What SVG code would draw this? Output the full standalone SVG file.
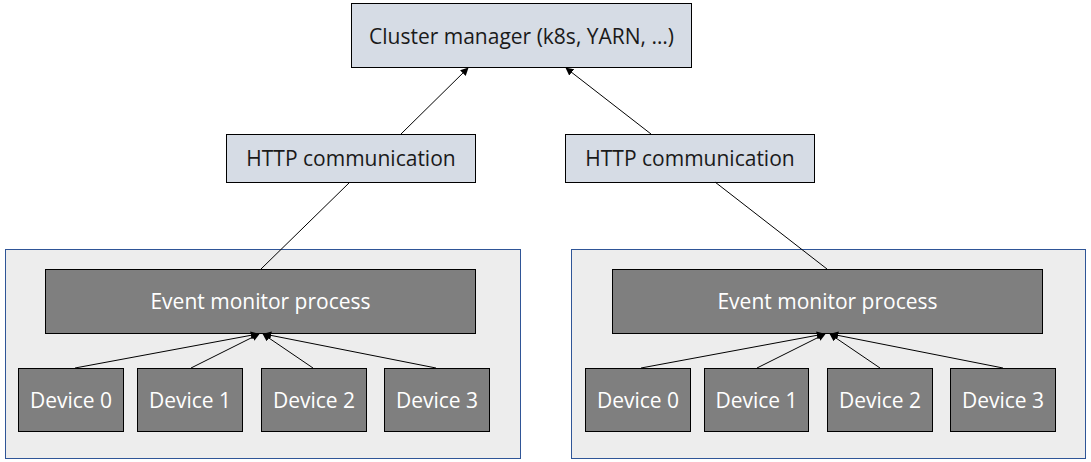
<svg xmlns="http://www.w3.org/2000/svg" width="1091" height="462" viewBox="0 0 1091 462">
<style>
.light{fill:#D6DCE5;stroke:#000;stroke-width:1}
.cont{fill:#EDEDED;stroke:#2F5597;stroke-width:1}
.dark{fill:#7F7F7F;stroke:#000;stroke-width:1}
text{font-family:"Open Sans","Noto Sans",sans-serif;font-size:21px;text-anchor:middle;dominant-baseline:central}
.lt{fill:#1a1a1a}
.wt{fill:#fff}
.conn line{stroke:#000;stroke-width:1}
</style>
<defs>
<marker id="arr" viewBox="0 0 10 10" refX="9" refY="5" markerWidth="8" markerHeight="8" markerUnits="userSpaceOnUse" orient="auto">
<path d="M0,0 L10,5 L0,10 z" fill="#000"/>
</marker>
</defs>
<rect fill="#fff" width="1091" height="462"/>
<g id="container-left"><rect class="cont" x="5.5" y="249.5" width="515" height="209"/></g>
<g id="container-right"><rect class="cont" x="571.5" y="249.5" width="514" height="209"/></g>
<g id="cluster-manager"><rect class="light" x="351.5" y="3.5" width="340" height="64"/><text class="lt" x="521.5" y="36">Cluster manager (k8s, YARN, …)</text></g>
<g id="http-left"><rect class="light" x="226.5" y="134.5" width="249" height="48"/><text class="lt" x="351" y="158">HTTP communication</text></g>
<g id="http-right"><rect class="light" x="565.5" y="134.5" width="249" height="48"/><text class="lt" x="690" y="158">HTTP communication</text></g>
<g id="event-left"><rect class="dark" x="45.5" y="269.5" width="430" height="64"/><text class="wt" x="260.5" y="301">Event monitor process</text></g>
<g id="event-right"><rect class="dark" x="612.5" y="269.5" width="430" height="64"/><text class="wt" x="827.5" y="301">Event monitor process</text></g>
<g id="dev-l0"><rect class="dark" x="18.5" y="368.5" width="105" height="63"/><text class="wt" x="71" y="400">Device 0</text></g>
<g id="dev-l1"><rect class="dark" x="137.5" y="368.5" width="105" height="63"/><text class="wt" x="190" y="400">Device 1</text></g>
<g id="dev-l2"><rect class="dark" x="261.5" y="368.5" width="105" height="63"/><text class="wt" x="314" y="400">Device 2</text></g>
<g id="dev-l3"><rect class="dark" x="384.5" y="368.5" width="105" height="63"/><text class="wt" x="437" y="400">Device 3</text></g>
<g id="dev-r0"><rect class="dark" x="585.5" y="368.5" width="105" height="63"/><text class="wt" x="638" y="400">Device 0</text></g>
<g id="dev-r1"><rect class="dark" x="704.5" y="368.5" width="104" height="63"/><text class="wt" x="756.5" y="400">Device 1</text></g>
<g id="dev-r2"><rect class="dark" x="827.5" y="368.5" width="105" height="63"/><text class="wt" x="880" y="400">Device 2</text></g>
<g id="dev-r3"><rect class="dark" x="950.5" y="368.5" width="105" height="63"/><text class="wt" x="1003" y="400">Device 3</text></g>
<g id="connectors" class="conn">
<line x1="401" y1="134" x2="468" y2="68" marker-end="url(#arr)"/>
<line x1="651" y1="134" x2="566" y2="68" marker-end="url(#arr)"/>
<line x1="261" y1="269" x2="350" y2="182"/>
<line x1="827" y1="269" x2="715" y2="182"/>
<line x1="75" y1="368" x2="258" y2="334" marker-end="url(#arr)"/>
<line x1="191" y1="368" x2="259" y2="334" marker-end="url(#arr)"/>
<line x1="313" y1="368" x2="263" y2="334" marker-end="url(#arr)"/>
<line x1="436" y1="368" x2="264" y2="334" marker-end="url(#arr)"/>
<line x1="641" y1="368" x2="824" y2="334" marker-end="url(#arr)"/>
<line x1="757" y1="368" x2="825" y2="334" marker-end="url(#arr)"/>
<line x1="880" y1="368" x2="830" y2="334" marker-end="url(#arr)"/>
<line x1="1003" y1="368" x2="831" y2="334" marker-end="url(#arr)"/>
</g>
</svg>
